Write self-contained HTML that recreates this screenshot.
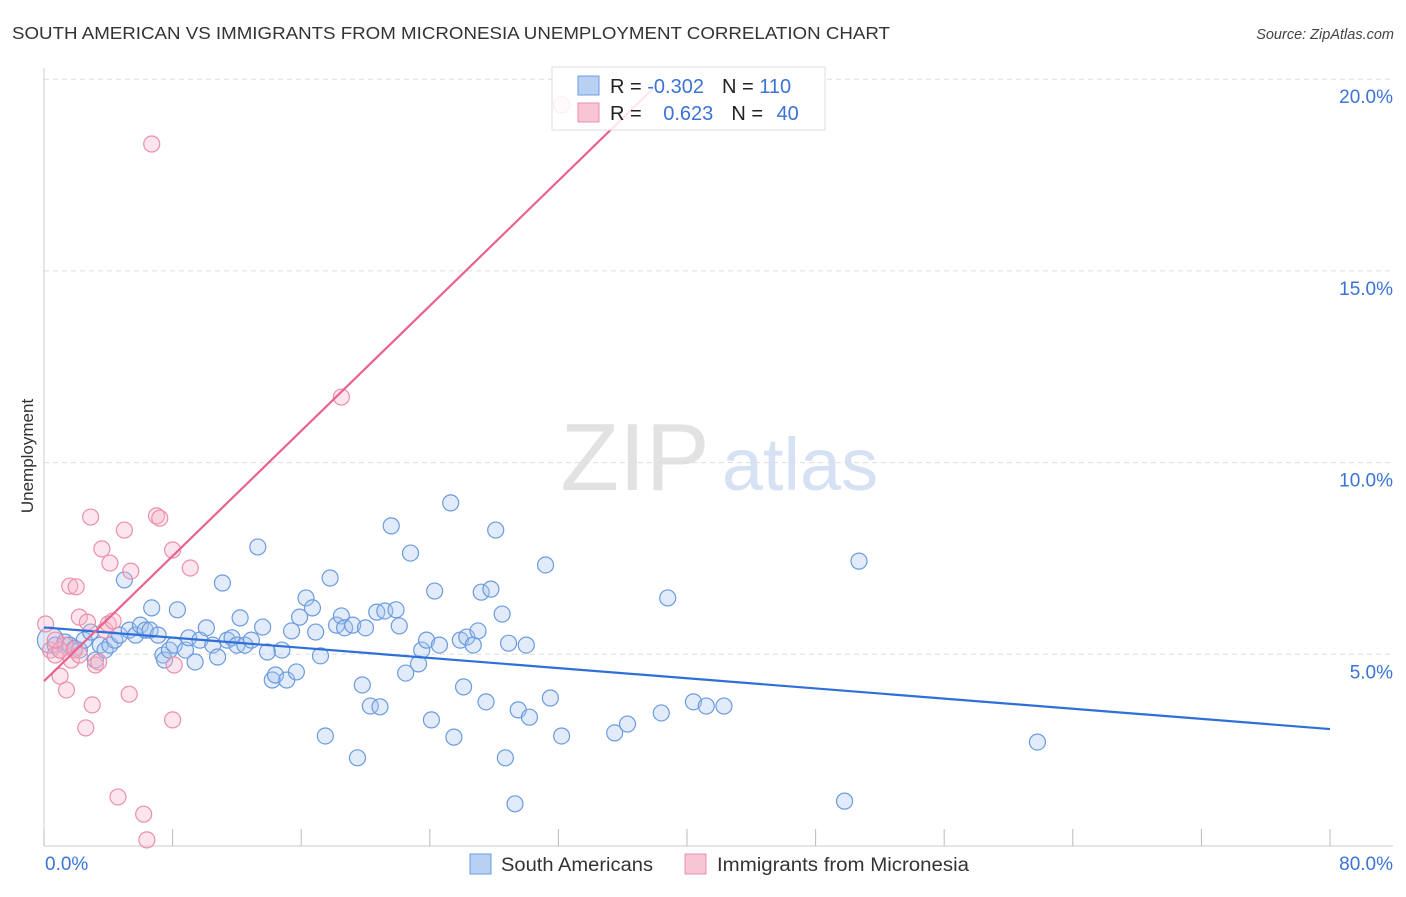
<!DOCTYPE html>
<html><head><meta charset="utf-8">
<style>
body{margin:0;background:#fff;font-family:"Liberation Sans",sans-serif;}
svg text{font-family:"Liberation Sans",sans-serif;}
</style></head>
<body>
<svg id="chart" width="1406" height="892" xmlns="http://www.w3.org/2000/svg">
<text x="12" y="39" font-size="17.5" fill="#333" textLength="878" lengthAdjust="spacingAndGlyphs">SOUTH AMERICAN VS IMMIGRANTS FROM MICRONESIA UNEMPLOYMENT CORRELATION CHART</text>
<text x="1394" y="39" font-size="14.5" fill="#444" text-anchor="end" font-style="italic">Source: ZipAtlas.com</text>
<text transform="translate(33,456) rotate(-90)" font-size="17" fill="#333" text-anchor="middle">Unemployment</text>
<g>
<text x="635" y="490" font-size="96" fill="#e2e2e2" text-anchor="middle" font-family="Liberation Serif">ZIP</text>
<text x="800" y="490" font-size="74" fill="#d6e2f4" text-anchor="middle">atlas</text>
</g>
<g id="grid"></g>
<g id="axes"></g>
<g id="pts"></g>
<g id="lines"></g>
<g>
<rect x="552" y="67" width="273" height="63" fill="#fff" fill-opacity="0.85" stroke="#ddd"/>
<rect x="578" y="76" width="21" height="19" fill="#b8d1f3" stroke="#6b9be0"/>
<rect x="578" y="103" width="21" height="19" fill="#f8c5d5" stroke="#ec8fab"/>
<text x="610" y="93" font-size="20" fill="#222">R = <tspan fill="#3a74d6">-0.302</tspan><tspan dx="18">N = </tspan><tspan fill="#3a74d6">110</tspan></text>
<text x="610" y="120" font-size="20" fill="#222">R = <tspan fill="#3a74d6" dx="16">0.623</tspan><tspan dx="18">N = </tspan><tspan fill="#3a74d6" dx="8">40</tspan></text>
</g>
<g>
<rect x="470" y="854" width="21" height="20" fill="#b8d1f3" stroke="#6b9be0"/>
<text x="501" y="871" font-size="19" fill="#333" textLength="152" lengthAdjust="spacingAndGlyphs">South Americans</text>
<rect x="685" y="854" width="21" height="20" fill="#f8c5d5" stroke="#ec8fab"/>
<text x="717" y="871" font-size="19" fill="#333" textLength="252" lengthAdjust="spacingAndGlyphs">Immigrants from Micronesia</text>
</g>
</svg>
<script>
const blueX=[0.4,0.7,1.0,1.3,1.6,1.9,2.2,2.5,2.9,3.2,3.5,3.8,4.1,4.4,4.7,5.0,5.3,5.7,6.0,6.3,6.6,6.7,7.1,7.4,7.5,7.8,8.1,8.3,8.8,9.0,9.4,9.7,10.1,10.5,10.8,11.1,11.4,11.7,12.0,12.2,12.5,12.9,13.3,13.6,13.9,14.2,14.4,14.8,15.1,15.4,15.7,15.9,16.3,16.7,16.9,17.2,17.5,17.8,18.2,18.5,18.7,19.2,19.5,19.8,20.0,20.3,20.7,20.9,21.2,21.6,21.9,22.1,22.5,22.8,23.3,23.5,23.8,24.1,24.3,24.6,25.3,25.5,25.9,26.1,26.3,26.7,27.0,27.2,27.5,27.8,28.1,28.5,28.7,28.9,29.3,29.5,30.0,30.2,31.2,31.5,32.2,35.5,36.3,38.4,38.8,40.4,41.2,42.3,49.8,50.7,61.8];
const blueY=[5.37,5.24,5.11,5.32,5.24,5.16,5.11,5.37,5.58,4.85,5.24,5.11,5.24,5.37,5.50,6.94,5.63,5.50,5.76,5.63,5.63,6.21,5.50,4.98,4.85,5.11,5.24,6.16,5.11,5.43,4.80,5.37,5.69,5.24,4.93,6.86,5.37,5.43,5.24,5.95,5.24,5.37,7.80,5.71,5.06,4.33,4.46,5.11,4.33,5.61,4.54,5.97,6.47,6.21,5.58,4.96,2.87,6.99,5.76,6.00,5.69,5.76,2.30,4.20,5.69,3.65,6.10,3.63,6.13,8.35,6.16,5.74,4.51,7.64,4.75,5.11,5.37,3.29,6.65,5.24,8.95,2.84,5.37,4.15,5.45,5.24,5.61,6.62,3.76,6.70,8.24,6.05,2.30,5.29,1.10,3.55,5.24,3.36,7.33,3.86,2.87,2.95,3.18,3.47,6.47,3.76,3.65,3.65,1.17,7.43,2.71];
const pinkX=[0.1,0.4,0.7,1.0,1.3,1.6,1.7,2.0,2.2,2.6,2.7,2.9,3.0,3.2,3.6,3.8,4.0,4.1,4.3,4.6,5.0,5.3,5.4,6.2,6.4,6.7,7.0,7.2,8.0,8.0,8.1,9.1,18.5,32.2,1.0,1.9,1.4,3.4,0.7,2.2];
const pinkY=[5.79,5.11,4.98,4.43,5.24,6.78,4.85,6.76,5.97,3.08,5.84,8.58,3.68,4.72,7.75,5.63,5.79,7.38,5.87,1.28,8.24,3.96,7.17,0.83,0.16,18.31,8.61,8.55,7.72,3.29,4.72,7.25,11.71,19.33,5.11,5.11,4.07,4.80,5.37,4.98];
const blueTrend=[5.7,3.05]; // y at x=0 and x=80
const pinkTrend=[4.3,19.8,38.0]; // y at 0, y at end, end x
const yTicks=[5,10,15,20];
const xTicks=[0,8,16,24,32,40,48,56,64,72,80];
const NS='http://www.w3.org/2000/svg';
const X=v=>44+v*1286/80, Y=v=>846-v*38.34;
function mk(t,a,p){const e=document.createElementNS(NS,t);for(const k in a)e.setAttribute(k,a[k]);p.appendChild(e);return e;}
const grid=document.getElementById('grid'),axes=document.getElementById('axes'),pts=document.getElementById('pts'),lines=document.getElementById('lines');
yTicks.forEach(t=>{
 const l=mk('line',{x1:44,x2:1393,y1:Y(t),y2:Y(t),stroke:'#ddd','stroke-dasharray':'5,4'},grid);
 
 
 const tx=mk('text',{x:1393,y:Y(t)+24,'font-size':19,fill:'#3a74d6','text-anchor':'end'},axes);
 tx.textContent=t.toFixed(1)+'%';
 
 
});
const ax=mk('line',{x1:44,x2:1393,y1:846,y2:846,stroke:'#ccc'},axes);


const ay=mk('line',{x1:44,x2:44,y1:68,y2:846,stroke:'#ccc'},axes);


xTicks.forEach(t=>{
 const l=mk('line',{x1:X(t),x2:X(t),y1:829,y2:846,stroke:'#bbb'},axes);
 
 
});
[[0,'start'],[80,'end']].forEach(([t,a])=>{
 const tx=mk('text',{x:a==='start'?X(t)+1:1393,y:870,'font-size':19,fill:'#3a74d6','text-anchor':a},axes);
 tx.textContent=t.toFixed(1)+'%';
 
 
});
blueX.forEach((x,i)=>{
 const c=mk('circle',{cx:X(x),cy:Y(blueY[i]),r:i===0?13:8,fill:'#a9c6ef','fill-opacity':0.35,stroke:'#6b9be0','stroke-width':1.2},pts);
 
 
});
pinkX.forEach((x,i)=>{
 const c=mk('circle',{cx:X(x),cy:Y(pinkY[i]),r:8,fill:'#f5b5c9','fill-opacity':0.35,stroke:'#ec8fab','stroke-width':1.2},pts);
 
 
});
const bl=mk('line',{x1:X(0),y1:Y(blueTrend[0]),x2:X(80),y2:Y(blueTrend[1]),stroke:'#2f6fd8','stroke-width':2.2},lines);


const pl=mk('line',{x1:X(0),y1:Y(pinkTrend[0]),x2:X(pinkTrend[2]),y2:Y(pinkTrend[1]),stroke:'#e8628f','stroke-width':2.2},lines);


</script>
</body></html>
